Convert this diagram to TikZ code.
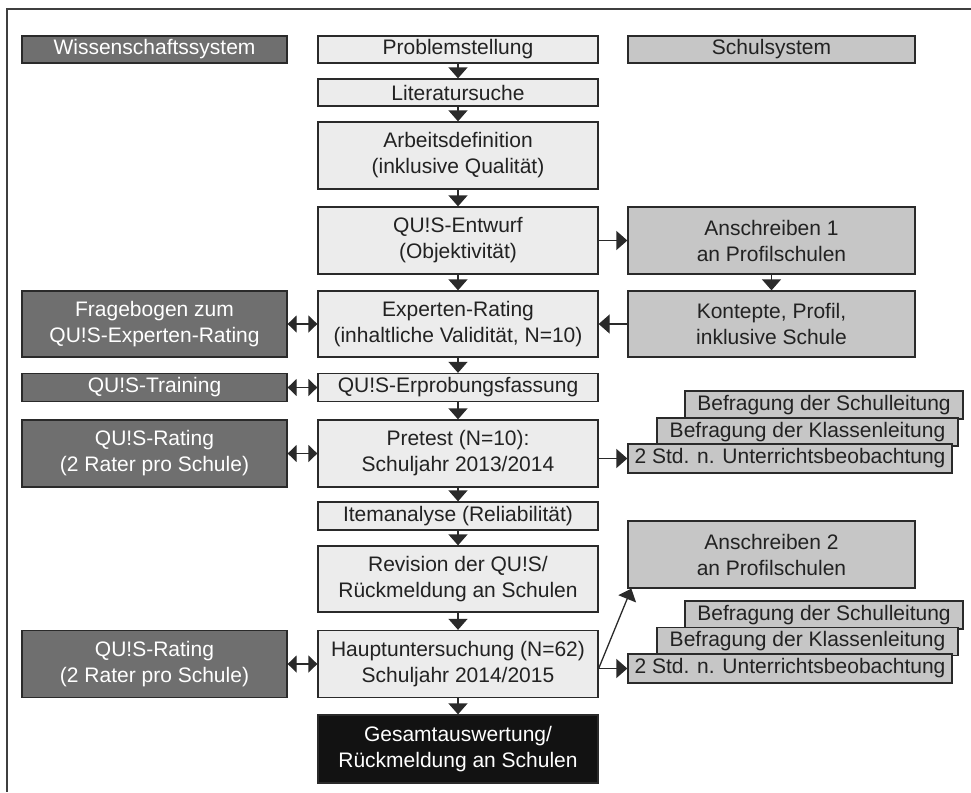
\documentclass[tikz,border=0pt]{standalone}
\usepackage{fontspec}
\setmainfont{Liberation Sans}
\usetikzlibrary{arrows.meta}
\definecolor{dk}{HTML}{6F6F6F}
\definecolor{lt}{HTML}{ECECEC}
\definecolor{md}{HTML}{C6C6C6}
\definecolor{bd}{HTML}{2A2A2A}
\definecolor{ink}{HTML}{222222}
\definecolor{blk}{HTML}{121212}
\tikzset{
  base/.style={draw=bd, line width=1.3pt, inner sep=0pt, align=center,
    font=\fontsize{21}{26}\selectfont},
  lbox/.style={base, fill=dk, text=white, minimum width=265pt},
  cbox/.style={base, fill=lt, text=ink, minimum width=280pt},
  rbox/.style={base, fill=md, text=ink, minimum width=287pt},
  sbox/.style={base, fill=md, text=ink},
  fbox/.style={base, fill=blk, text=white, minimum width=280pt},
  arr/.style={draw=bd, line width=1.3pt, -{Triangle[width=19pt,length=11pt]}},
  darr/.style={draw=bd, line width=1.3pt, {Triangle[width=17pt,length=9pt]}-{Triangle[width=17pt,length=9pt]}},
}
\begin{document}
\begin{tikzpicture}[x=1pt,y=-1pt]
\useasboundingbox (0,0) rectangle (971,792);
\draw[draw=bd!90, line width=1.5pt] (971,9) -- (7,9) -- (7,792);
% top row
\node[lbox, minimum height=27pt] (wiss) at (154.5,49.5) {Wissenschaftssystem};
\node[cbox, minimum height=27pt] (prob) at (458,49.5) {Problemstellung};
\node[rbox, minimum height=27pt] (schul) at (771.5,49.5) {Schulsystem};
\node[cbox, minimum height=27pt] (lit) at (458,92.5) {Literatursuche};
\node[cbox, minimum height=67pt] (arb) at (458,155.5) {Arbeitsdefinition\\(inklusive Qualität)};
\node[cbox, minimum height=67pt] (entw) at (458,240.5) {QU!S-Entwurf\\(Objektivität)};
\node[rbox, minimum height=67pt] (ansch1) at (771.5,240.5) {Anschreiben 1\\an Profilschulen};
\node[lbox, minimum height=66pt] (frag) at (154.5,324) {Fragebogen zum\\QU!S-Experten-Rating};
\node[cbox, minimum height=66pt] (expert) at (458,324) {Experten-Rating\\(inhaltliche Validität, N=10)};
\node[rbox, minimum height=66pt] (konz) at (771.5,324) {Kontepte, Profil,\\inklusive Schule};
\node[lbox, minimum height=28pt] (train) at (154.5,387.5) {QU!S-Training};
\node[cbox, minimum height=28pt] (erprob) at (458,387.5) {QU!S-Erprobungsfassung};
\node[lbox, minimum height=67pt] (rating1) at (154.5,453.5) {QU!S-Rating\\(2 Rater pro Schule)};
\node[cbox, minimum height=67pt] (pretest) at (458,453.5) {Pretest (N=10):\\Schuljahr 2013/2014};
% stacked 1
\node[sbox, minimum width=278pt, minimum height=28pt] (sl1) at (824,405) {Befragung der Schulleitung};
\node[sbox, minimum width=301pt, minimum height=28pt] (kl1) at (807.5,432) {Befragung der Klassenleitung};
\node[sbox, minimum width=324pt, minimum height=29pt] (std1) at (790,458.5) {2 Std. n. Unterrichtsbeobachtung};
\node[cbox, minimum height=28pt] (item) at (458,516) {Itemanalyse (Reliabilität)};
\node[cbox, minimum height=66pt] (rev) at (458,579) {Revision der QU!S/\\Rückmeldung an Schulen};
\node[rbox, minimum height=67pt] (ansch2) at (771.5,554.5) {Anschreiben 2\\an Profilschulen};
\node[lbox, minimum height=67pt] (rating2) at (154.5,664) {QU!S-Rating\\(2 Rater pro Schule)};
\node[cbox, minimum height=67pt] (haupt) at (458,664) {Hauptuntersuchung (N=62)\\Schuljahr 2014/2015};
% stacked 2
\node[sbox, minimum width=278pt, minimum height=28pt] (sl2) at (824,615) {Befragung der Schulleitung};
\node[sbox, minimum width=301pt, minimum height=28pt] (kl2) at (807.5,641.5) {Befragung der Klassenleitung};
\node[sbox, minimum width=324pt, minimum height=29pt] (std2) at (790,668.5) {2 Std. n. Unterrichtsbeobachtung};
\node[fbox, minimum height=68pt] (gesamt) at (458,749) {Gesamtauswertung/\\Rückmeldung an Schulen};
% vertical arrows
\draw[arr] (prob) -- (lit);
\draw[arr] (lit) -- (arb);
\draw[arr] (arb) -- (entw);
\draw[arr] (entw) -- (expert);
\draw[arr] (expert) -- (erprob);
\draw[arr] (erprob) -- (pretest);
\draw[arr] (pretest) -- (item);
\draw[arr] (item) -- (rev);
\draw[arr] (rev) -- (haupt);
\draw[arr] (haupt) -- (gesamt);
\draw[arr] (ansch1) -- (konz);
% horizontal arrows
\draw[arr] (entw) -- (ansch1);
\draw[arr] (konz) -- (expert);
\draw[darr] (frag) -- (expert);
\draw[darr] (train) -- (erprob);
\draw[darr] (rating1) -- (pretest);
\draw[darr] (rating2) -- (haupt);
\coordinate (p1) at (pretest.east |- std1.west);
\draw[arr] (p1) -- (std1.west);
\coordinate (h1) at (haupt.east |- std2.west);
\draw[arr] (h1) -- (std2.west);
\coordinate (a2) at ([xshift=4pt]ansch2.south west);
\draw[arr] (h1) -- (a2);
\end{tikzpicture}
\end{document}
